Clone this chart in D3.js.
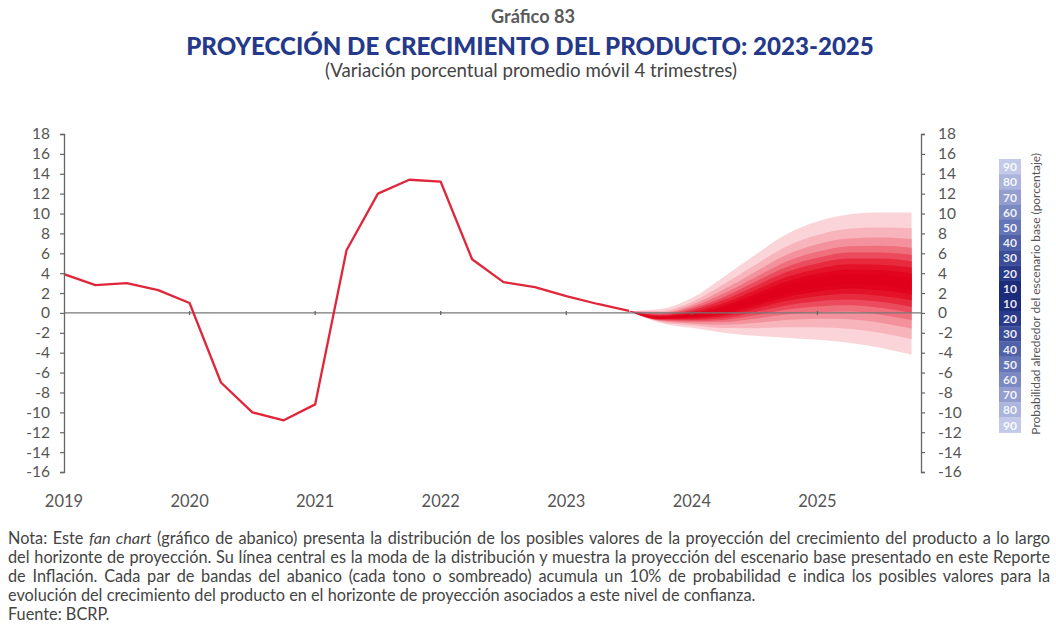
<!DOCTYPE html>
<html>
<head>
<meta charset="utf-8">
<script src="https://cdn.jsdelivr.net/npm/d3@7"></script>
<style>
  body { margin: 0; background: #fff; }
  svg { display: block; }
  text { font-family: Lato, "Open Sans", sans-serif; }
</style>
</head>
<body>
<svg id="chart" width="1056" height="631"></svg>
<script>
// Quarterly index: 0 = 2019 T1 ... 27 = 2025 T4
const histQuarters = [0,1,2,3,4,5,6,7,8,9,10,11,12,13,14,15,16,17,18];
const histGrowth   = [3.9,2.8,3.0,2.3,1.0,-7.0,-10.0,-10.8,-9.2,6.3,12.0,13.4,13.2,5.4,3.1,2.6,1.7,0.9,0.2];

// Projection horizon (fan chart)
const fanQuarters = [18,19,20,21,22,23,24,25,26,27];
const probLevels  = [10,20,30,40,50,60,70,80,90];

// Upper / lower bounds of each probability band (rows follow probLevels)
const fanUpper = [
  [0.2,-0.43,-0.16,0.47,1.57,2.75,3.50,3.92,3.84,3.48],
  [0.2,-0.37,-0.03,0.71,1.89,3.14,3.93,4.38,4.32,3.98],
  [0.2,-0.29, 0.11,0.98,2.26,3.59,4.43,4.90,4.86,4.56],
  [0.2,-0.21, 0.28,1.29,2.67,4.09,4.98,5.48,5.48,5.20],
  [0.2,-0.13, 0.44,1.59,3.09,4.60,5.54,6.07,6.09,5.85],
  [0.2,-0.04, 0.62,1.93,3.55,5.16,6.16,6.72,6.77,6.57],
  [0.2, 0.07, 0.83,2.34,4.10,5.83,6.91,7.50,7.58,7.44],
  [0.2, 0.20, 1.10,2.85,4.79,6.67,7.84,8.47,8.60,8.52],
  [0.2, 0.40, 1.50,3.60,5.80,7.90,9.20,9.90,10.1,10.1]
];
const fanLower = [
  [0.2,-0.54,-0.40, 0.02, 0.92, 1.92, 2.54, 2.89, 2.76, 2.33],
  [0.2,-0.58,-0.48,-0.13, 0.68, 1.58, 2.15, 2.44, 2.28, 1.84],
  [0.2,-0.62,-0.58,-0.31, 0.40, 1.20, 1.69, 1.93, 1.74, 1.27],
  [0.2,-0.66,-0.68,-0.50, 0.08, 0.76, 1.18, 1.35, 1.12, 0.63],
  [0.2,-0.71,-0.79,-0.70,-0.24, 0.33, 0.66, 0.78, 0.51,-0.01],
  [0.2,-0.76,-0.91,-0.92,-0.59,-0.15, 0.09, 0.14,-0.17,-0.72],
  [0.2,-0.82,-1.06,-1.19,-1.01,-0.72,-0.59,-0.63,-0.98,-1.57],
  [0.2,-0.89,-1.24,-1.52,-1.53,-1.44,-1.45,-1.59,-2.00,-2.64],
  [0.2,-1.00,-1.50,-2.00,-2.30,-2.50,-2.70,-3.00,-3.50,-4.20]
];

const fanColors    = ["#e0001b","#e2041f","#e41228","#e72a3e","#eb4b5c","#ef6f7d","#f3929d","#f7b4bb","#fad4d8"];
const legendColors = ["#1c2b7a","#2a3a8a","#3c4c99","#5061a8","#6575b5","#7b89c2","#939ecf","#abb4dc","#c3c9e8"];

const yTickValues = [-16,-14,-12,-10,-8,-6,-4,-2,0,2,4,6,8,10,12,14,16,18];
const yearLabels  = ["2019","2020","2021","2022","2023","2024","2025"];
const yearQuarter = [0,4,8,12,16,20,24];

const noteLines = [
  [["Nota: Este ", false], ["fan chart", true], [" (gráfico de abanico) presenta la distribución de los posibles valores de la proyección del crecimiento del producto a lo largo", false]],
  [["del horizonte de proyección. Su línea central es la moda de la distribución y muestra la proyección del escenario base presentado en este Reporte", false]],
  [["de Inflación. Cada par de bandas del abanico (cada tono o sombreado) acumula un 10% de probabilidad e indica los posibles valores para la", false]],
  [["evolución del crecimiento del producto en el horizonte de proyección asociados a este nivel de confianza.", false]],
  [["Fuente: BCRP.", false]]
];

const svg = d3.select("#chart");
const plotLeft = 64, plotRight = 921, plotTop = 134, plotBottom = 472;

const x = d3.scaleLinear().domain([0, 27.3]).range([plotLeft, plotRight]);
const y = d3.scaleLinear().domain([-16, 18]).range([plotBottom, plotTop]);

// Scale a text's font size so that it spans the given width
function fitWidth(sel, width) {
  const fs = +sel.attr("font-size");
  const len = sel.node().getComputedTextLength();
  sel.attr("font-size", fs * width / len);
  return sel;
}

// Titles
fitWidth(svg.append("text").attr("x", 533).attr("y", 23).attr("text-anchor", "middle")
  .attr("font-size", 15).attr("font-weight", 700).attr("fill", "#5a5a5a").text("Gráfico 83"), 84);
fitWidth(svg.append("text").attr("x", 530).attr("y", 55).attr("text-anchor", "middle")
  .attr("font-size", 22).attr("font-weight", 900).attr("fill", "#24398a")
  .text("PROYECCIÓN DE CRECIMIENTO DEL PRODUCTO: 2023-2025"), 688);
fitWidth(svg.append("text").attr("x", 531).attr("y", 77).attr("text-anchor", "middle")
  .attr("font-size", 15).attr("fill", "#444")
  .text("(Variación porcentual promedio móvil 4 trimestres)"), 412);

// Fan bands, widest first
const area = d3.area()
  .x((d, j) => x(fanQuarters[j]))
  .y0(d => y(d[0]))
  .y1(d => y(d[1]))
  .curve(d3.curveMonotoneX);

for (let i = probLevels.length - 1; i >= 0; i--) {
  const band = fanQuarters.map((q, j) => [fanLower[i][j], fanUpper[i][j]]);
  svg.append("path").datum(band).attr("d", area).attr("fill", fanColors[i]);
}

// Zero line with year marks
svg.append("line").attr("x1", plotLeft).attr("x2", plotRight).attr("y1", y(0)).attr("y2", y(0))
  .attr("stroke", "#777").attr("stroke-width", 1.3);
svg.append("g").selectAll("line").data(yearQuarter.slice(1)).join("line")
  .attr("x1", d => x(d)).attr("x2", d => x(d))
  .attr("y1", y(0) - 2).attr("y2", y(0) + 2)
  .attr("stroke", "#666").attr("stroke-width", 1.3);

// Historical series
const line = d3.line().x((d, i) => x(histQuarters[i])).y(d => y(d));
svg.append("path").datum(histGrowth).attr("d", line)
  .attr("fill", "none").attr("stroke", "#e0263a").attr("stroke-width", 2.3)
  .attr("stroke-linejoin", "round");

// Axes
function styleAxis(g) {
  g.select(".domain").attr("stroke", "#666").attr("stroke-width", 1.3);
  g.selectAll(".tick line").attr("stroke", "#666").attr("stroke-width", 1.2);
  g.selectAll(".tick text").attr("fill", "#555").attr("font-size", 15.5)
    .attr("font-family", "Lato, sans-serif");
}
svg.append("g").attr("transform", `translate(${plotLeft},0)`)
  .call(d3.axisLeft(y).tickValues(yTickValues).tickSize(4).tickSizeOuter(4).tickPadding(10).tickFormat(d3.format("d")))
  .call(styleAxis);
svg.append("g").attr("transform", `translate(${plotRight},0)`)
  .call(d3.axisRight(y).tickValues(yTickValues).tickSize(4).tickSizeOuter(4).tickPadding(13).tickFormat(d3.format("d")))
  .call(styleAxis);
svg.selectAll(".tick text").text(function () { return this.textContent.replace("−", "-"); });

// Year labels
svg.append("g").selectAll("text").data(yearLabels).join("text")
  .attr("x", (d, i) => x(yearQuarter[i])).attr("y", 507)
  .attr("text-anchor", "middle").attr("font-size", 16.5).attr("fill", "#555").text(d => d);

// Probability legend
const legendLabels = probLevels.slice().reverse().concat(probLevels);
const legendFill = legendColors.slice().reverse().concat(legendColors);
const lg = svg.append("g");
const cellH = 15.2, lgTop = 159, lgX = 999, lgW = 22;
lg.selectAll("rect").data(legendLabels).join("rect")
  .attr("x", lgX).attr("y", (d, i) => lgTop + i * cellH)
  .attr("width", lgW).attr("height", cellH + 0.3)
  .attr("fill", (d, i) => legendFill[i]);
lg.selectAll("text").data(legendLabels).join("text")
  .attr("x", lgX + lgW / 2).attr("y", (d, i) => lgTop + i * cellH + cellH / 2 + 4.5)
  .attr("text-anchor", "middle").attr("font-size", 12).attr("font-weight", 700)
  .attr("fill", "#fff").attr("fill-opacity", 0.9).text(d => d);
fitWidth(svg.append("text")
  .attr("transform", `translate(1040,${lgTop + 9 * cellH - 2}) rotate(-90)`)
  .attr("text-anchor", "middle").attr("font-size", 10).attr("fill", "#555")
  .text("Probabilidad alrededor del escenario base (porcentaje)"), 282);

// Note: justified paragraph, last lines left aligned
const noteG = svg.append("g");
const noteX = 8, noteRight = 1050, noteY0 = 544, noteDy = 19;
const noteTexts = noteLines.map((parts, i) => {
  const t = noteG.append("text").attr("x", noteX).attr("y", noteY0 + i * noteDy)
    .attr("font-size", 14).attr("fill", "#444");
  parts.forEach(([s, it]) => t.append("tspan").attr("font-style", it ? "italic" : "normal").text(s));
  return t;
});
const baseSize = 14;
const widest = d3.max(noteTexts.slice(0, 3), t => t.node().getComputedTextLength());
const sizeA = baseSize * 765 / noteTexts[3].node().getComputedTextLength();
const sizeB = baseSize * 1030 / widest;
const noteSize = Math.min(sizeA, sizeB);
noteTexts.forEach((t, i) => {
  t.attr("font-size", noteSize);
  if (i < 3) {
    const natural = t.node().getComputedTextLength();
    const spaces = noteLines[i].map(p => p[0]).join("").split(" ").length - 1;
    t.attr("word-spacing", (noteRight - noteX - natural) / spaces);
  }
});
</script>
</body>
</html>
